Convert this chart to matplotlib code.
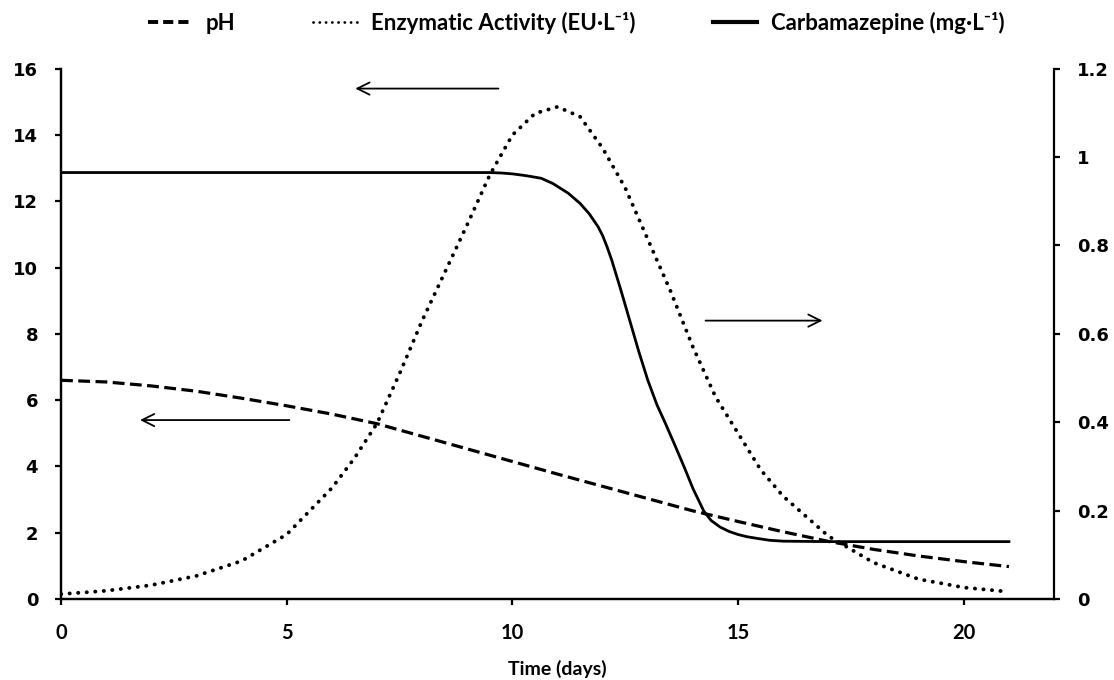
import matplotlib
matplotlib.use("Agg")
import matplotlib.pyplot as plt
from matplotlib.lines import Line2D

# Time axis (days) and readings for each series
days_ph = [0, 1, 2, 3, 4, 5, 6, 7, 8, 9, 10, 11, 12, 13, 14, 15, 16, 17, 18, 19, 20, 21]
ph = [6.6, 6.55, 6.43, 6.27, 6.06, 5.83, 5.58, 5.29, 4.91, 4.53, 4.15, 3.77, 3.4,
      3.03, 2.66, 2.34, 2.03, 1.74, 1.5, 1.3, 1.13, 0.98]

days_enz = [0, 1, 2, 3, 4, 5, 6, 6.5, 7, 7.5, 8, 8.5, 9, 9.5, 10, 10.5, 11, 11.5, 12,
            12.5, 13, 13.5, 14, 14.5, 15, 15.5, 16, 17, 18, 19, 20, 21]
enzyme = [0.15, 0.25, 0.42, 0.7, 1.15, 1.95, 3.35, 4.25, 5.3, 6.8, 8.4, 9.85, 11.3,
          12.8, 14.0, 14.65, 14.85, 14.55, 13.6, 12.4, 10.85, 9.3, 7.6, 6.1, 5.0,
          3.9, 3.1, 1.9, 1.1, 0.6, 0.35, 0.22]

days_cbz = [0, 2, 4, 6, 8, 9, 9.5, 9.75, 10, 10.3, 10.64, 10.9, 11.24, 11.5, 11.7,
            11.9, 12.0, 12.1, 12.2, 12.4, 12.6, 12.8, 13.0, 13.2, 13.4, 13.6, 13.8,
            14.0, 14.24, 14.4, 14.6, 14.8, 15.0, 15.2, 15.44, 15.7, 16, 17, 18, 19,
            20, 21]
carbamazepine = [0.965, 0.965, 0.965, 0.965, 0.965, 0.965, 0.965, 0.964, 0.962,
                 0.958, 0.952, 0.94, 0.918, 0.895, 0.872, 0.842, 0.822, 0.796,
                 0.767, 0.70, 0.63, 0.56, 0.495, 0.44, 0.395, 0.348, 0.30, 0.25,
                 0.199, 0.178, 0.163, 0.153, 0.146, 0.141, 0.137, 0.133, 0.131,
                 0.13, 0.13, 0.13, 0.13, 0.13]

x_ticks = [0, 5, 10, 15, 20]
left_ticks = [0, 2, 4, 6, 8, 10, 12, 14, 16]
right_ticks = [0, 0.2, 0.4, 0.6, 0.8, 1.0, 1.2]
right_labels = ["0", "0.2", "0.4", "0.6", "0.8", "1", "1.2"]

label_font = ["Lato", "DejaVu Sans"]

fig = plt.figure(figsize=(11.14, 6.8), dpi=100)
ax = fig.add_axes([0.0548, 0.119, 0.8914, 0.780])
ax2 = ax.twinx()

ph_line, = ax.plot(days_ph, ph, color="black", lw=2.3,
                   linestyle=(0, (3.7, 1.7)), dash_capstyle="butt")
enz_line, = ax.plot(days_enz, enzyme, color="black", lw=2.8,
                    linestyle=(0, (0.05, 2.15)), dash_capstyle="round")
cbz_line, = ax2.plot(days_cbz, carbamazepine, color="black", lw=2.0,
                     solid_joinstyle="round")

ax.set_xlim(0, 22)
ax.set_ylim(0, 16)
ax2.set_ylim(0, 1.2)

ax.set_xticks(x_ticks)
ax.set_xticklabels([str(v) for v in x_ticks], fontfamily=label_font,
                   fontweight="bold", fontsize=14.5)
ax.set_yticks(left_ticks)
ax.set_yticklabels([str(v) for v in left_ticks], fontfamily="DejaVu Sans",
                   fontweight="bold", fontsize=13)
ax2.set_yticks(right_ticks)
ax2.set_yticklabels(right_labels, fontfamily="DejaVu Sans",
                    fontweight="bold", fontsize=13)

for a in (ax, ax2):
    a.spines["top"].set_visible(False)
    for s in a.spines.values():
        s.set_linewidth(1.6)
    a.tick_params(width=1.6, length=4.5, direction="out", colors="black")
ax.tick_params(axis="x", pad=13)
ax.tick_params(axis="y", pad=12)
ax2.tick_params(axis="y", pad=12)
ax.spines["right"].set_visible(False)

ax.set_xlabel("Time (days)", fontfamily=label_font, fontweight="bold",
              fontsize=14, labelpad=12)

# Arrows pointing each curve to its axis
arrow_kw = dict(arrowstyle="->", color="black", lw=1.3, mutation_scale=22,
                shrinkA=0, shrinkB=0)
ax.annotate("", xy=(6.52, 15.4), xytext=(9.69, 15.4), arrowprops=arrow_kw)
ax.annotate("", xy=(1.75, 5.4), xytext=(5.06, 5.4), arrowprops=arrow_kw)
ax.annotate("", xy=(16.87, 8.4), xytext=(14.28, 8.4), arrowprops=arrow_kw)

handles = [
    Line2D([], [], color="black", lw=2.8, linestyle=(0, (2.6, 1.3))),
    Line2D([], [], color="black", lw=2.0, linestyle=(0, (0.05, 2.2)),
           dash_capstyle="round"),
    Line2D([], [], color="black", lw=3.0),
]
labels = ["pH", "Enzymatic Activity (EU\u00b7L\u207b\u00b9)",
          "Carbamazepine (mg\u00b7L\u207b\u00b9)"]
fig.legend(handles, labels, loc="center", bbox_to_anchor=(0.517, 0.966),
           ncol=3, frameon=False, handlelength=2.0, handletextpad=0.6,
           columnspacing=3.5,
           prop={"family": label_font, "weight": "bold", "size": 16})

fig.savefig("out.png", dpi=100, facecolor="white")
